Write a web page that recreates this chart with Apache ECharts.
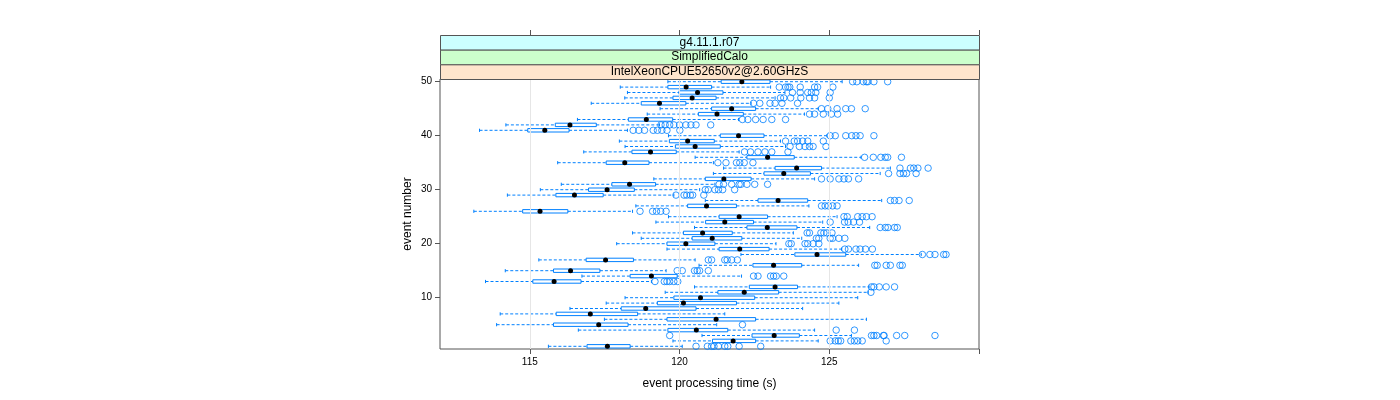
<!DOCTYPE html>
<html>
<head>
<meta charset="utf-8">
<script src="https://cdn.jsdelivr.net/npm/echarts@6/dist/echarts.min.js"></script>
<style>html,body{margin:0;padding:0;background:#fff}#c{width:1400px;height:400px}</style>
</head>
<body>
<div id="c"></div>
<script>
// ---- data (event 1 .. 50) ----
const events = [1,2,3,4,5,6,7,8,9,10,11,12,13,14,15,16,17,18,19,20,21,22,23,24,25,26,27,28,29,30,31,32,33,34,35,36,37,38,39,40,41,42,43,44,45,46,47,48,49,50];
const whiskerLow = [115.62,119.78,120.75,116.62,113.89,117.49,114.01,116.34,117.55,118.18,119.52,120.50,113.52,116.74,114.18,120.65,115.30,122.05,119.58,117.90,118.72,118.43,120.50,119.21,119.63,113.13,118.54,120.86,114.25,115.35,116.05,119.14,121.13,121.47,115.93,120.52,116.80,118.18,117.99,119.63,113.32,114.20,116.59,118.92,119.35,117.05,118.17,118.26,118.02,119.61];
const boxLow = [116.91,121.10,122.42,119.61,115.79,119.58,115.88,118.05,119.26,119.81,121.28,122.33,115.10,118.35,115.79,122.45,116.88,123.85,121.32,119.58,120.42,120.13,122.25,120.87,121.32,114.76,120.27,122.62,115.87,116.96,117.74,120.86,122.82,123.19,117.55,122.25,118.41,119.86,119.66,121.36,114.93,115.85,118.29,120.63,121.07,118.72,119.78,119.98,119.61,121.39];
const medians = [117.59,121.79,123.16,120.56,117.30,121.22,117.02,118.87,120.13,120.70,122.16,123.19,115.81,119.06,116.36,123.14,117.53,124.59,122.01,120.21,121.09,120.77,122.93,121.51,121.99,115.34,120.90,123.29,116.49,117.58,118.33,121.48,123.48,123.91,118.17,122.94,119.03,120.52,120.27,121.97,115.50,116.34,118.89,121.25,121.74,119.33,120.42,120.60,120.22,122.08];
const boxHigh = [118.35,122.54,124.00,121.61,118.28,122.54,118.60,120.55,121.90,122.51,123.31,123.94,116.71,119.92,117.34,124.08,118.46,125.55,122.99,121.18,122.08,121.76,123.92,122.47,122.94,116.27,121.90,124.28,117.45,118.49,119.20,122.39,124.37,124.74,118.98,123.83,119.89,121.36,121.16,122.82,116.31,117.22,119.77,122.13,122.54,120.21,121.22,121.45,121.07,123.02];
const whiskerHigh = [120.09,124.63,125.74,124.51,121.24,126.24,121.51,124.11,125.32,125.95,126.30,126.33,119.06,122.07,119.55,125.98,120.52,128.07,125.41,123.22,124.08,123.80,126.35,124.78,125.26,118.43,124.32,126.75,119.81,120.67,121.18,124.51,126.70,127.04,121.13,126.06,121.99,123.54,123.37,124.92,118.26,119.33,121.97,124.17,124.63,122.39,123.19,123.52,123.04,125.43];
const outliers = [
  [120.55,120.93,121.07,121.15,121.30,121.51,121.61,121.99,122.71],
  [125.03,125.20,125.30,125.38,125.72,125.84,125.95,126.10,126.90],
  [119.67,126.41,126.49,126.58,126.81,126.83,127.25,127.52,128.53],
  [125.23,125.84],
  [122.10],
  [],
  [],
  [],
  [],
  [],
  [126.39],
  [126.41,126.49,126.67,126.90,127.18],
  [119.18,119.49,119.58,119.67,119.81,119.94],
  [122.47,122.62,123.04,123.14,123.23,123.48],
  [119.92,120.09,120.50,120.59,120.67,120.96],
  [126.52,126.60,126.90,127.04,127.36,127.44],
  [120.96,121.07,121.51,121.59,121.74,121.93],
  [128.11,128.36,128.53,128.82,128.90],
  [125.52,125.64,125.89,126.03,126.21,126.44],
  [123.65,123.73,124.19,124.28,124.46,124.65],
  [124.57,124.65,125.03,125.11,125.32,125.52],
  [124.26,124.34,124.72,124.82,124.92,125.09],
  [126.70,126.87,126.96,127.18,127.27],
  [125.03,125.51,125.63,125.81,126.01],
  [125.49,125.60,125.95,126.10,126.24,126.43],
  [118.68,119.10,119.23,119.37,119.55],
  [124.74,124.86,124.97,125.11,125.26],
  [127.04,127.18,127.33,127.67],
  [119.88,120.15,120.24,120.36,120.44,120.81],
  [120.86,120.96,121.18,121.30,121.44,121.84],
  [121.32,121.47,121.74,121.99,122.05,122.25,122.51,122.94],
  [124.74,125.03,125.32,125.49,125.64,125.98],
  [126.98,127.36,127.48,127.58,127.90],
  [127.36,127.71,127.82,127.96,128.30],
  [121.28,121.55,121.90,122.01,122.16,122.45],
  [126.18,126.47,126.72,126.87,126.95,127.41],
  [122.17,122.37,122.62,122.85,123.08,123.62],
  [123.69,124.00,124.19,124.34,124.46,124.89],
  [123.54,123.83,123.94,124.11,124.28,124.80],
  [125.03,125.20,125.55,125.75,125.89,126.03,126.49],
  [118.45,118.64,118.83,119.12,119.26,119.41,119.58,120.01],
  [119.38,119.52,119.67,119.81,120.00,120.21,120.38,120.55,121.04],
  [122.10,122.28,122.54,122.79,123.08,123.54],
  [124.34,124.51,124.80,125.07,125.28],
  [124.74,124.95,125.26,125.55,125.74,126.20],
  [122.47,122.68,123.02,123.19,123.42,123.94],
  [123.37,123.48,123.71,124.05,124.34,124.51,125.00],
  [123.77,124.03,124.28,124.40,124.55,125.03],
  [123.33,123.54,123.62,123.68,124.03,124.51,124.61,125.12],
  [125.78,125.92,126.14,126.24,126.29,126.49,126.95]
];
const xTicks = [115, 120, 125, 130];
const xLabels = [115, 120, 125];
const yTicks = [10, 20, 30, 40, 50];
const stripTexts = ['g4.11.1.r07', 'SimplifiedCalo', 'IntelXeonCPUE52650v2@2.60GHzS'];
const stripColors = ['#ccffff', '#ccffcc', '#ffe5cc'];
const xTitle = 'event processing time (s)';
const yTitle = 'event number';

// ---- build ----
const FONT = '"Liberation Sans", Arial, Helvetica, sans-serif';
const BLUE = '#0080ff';
const boxData = events.map((e, i) => [e, whiskerLow[i], boxLow[i], medians[i], boxHigh[i], whiskerHigh[i]]);
const outData = [];
events.forEach((e, i) => outliers[i].forEach(v => outData.push([v, e])));

function renderBox(params, api) {
  const yv = api.value(0);
  const pt = d => api.coord([api.value(d), yv]);
  const wl = pt(1), q1 = pt(2), md = pt(3), q3 = pt(4), wh = pt(5);
  const cy = wl[1];
  const hb = 1.7, ht = 1.6;
  const dash = {stroke: BLUE, lineWidth: 1, lineDash: [3, 2]};
  const solid = {stroke: BLUE, lineWidth: 1};
  return {
    type: 'group',
    children: [
      {type: 'line', shape: {x1: wl[0], y1: cy, x2: q1[0], y2: cy}, style: dash},
      {type: 'line', shape: {x1: q3[0], y1: cy, x2: wh[0], y2: cy}, style: dash},
      {type: 'line', shape: {x1: wl[0], y1: cy - ht, x2: wl[0], y2: cy + ht}, style: solid},
      {type: 'line', shape: {x1: wh[0], y1: cy - ht, x2: wh[0], y2: cy + ht}, style: solid},
      {type: 'rect', shape: {x: q1[0], y: cy - hb, width: q3[0] - q1[0], height: 2 * hb}, style: {fill: 'none', stroke: BLUE, lineWidth: 1}},
      {type: 'circle', shape: {cx: md[0], cy: cy, r: 2.5}, style: {fill: '#000'}}
    ]
  };
}

const GL = 440, GR = 979, GT = 79, GB = 349;
const stripH = (GT - 35) / 3;
const graphics = [];
stripTexts.forEach((t, i) => {
  const y0 = 35 + i * stripH;
  graphics.push({type: 'rect', left: GL, top: y0, shape: {x: 0, y: 0, width: GR - GL, height: stripH},
    style: {fill: stripColors[i], stroke: '#555', lineWidth: 1}, z: 10});
  graphics.push({type: 'text', x: (GL + GR) / 2, y: y0 + stripH / 2, style: {text: t, fill: '#000', font: '12px ' + FONT, align: 'center', verticalAlign: 'middle'}, z: 11});
});

const chart = echarts.init(document.getElementById('c'), null, {renderer: 'canvas'});
chart.setOption({
  animation: false,
  backgroundColor: '#fff',
  textStyle: {fontFamily: FONT},
  grid: {left: GL, right: 1400 - GR, top: GT, bottom: 400 - GB, show: true, borderColor: '#555', borderWidth: 1, backgroundColor: 'transparent'},
  xAxis: [
    {type: 'value', min: 112, max: 130, position: 'bottom',
     axisLine: {show: false}, splitLine: {show: false},
     axisTick: {show: true, length: 5, lineStyle: {color: '#555'}, customValues: xTicks},
     axisLabel: {show: true, customValues: xLabels, fontSize: 10, color: '#000', margin: 8, fontFamily: FONT},
     name: xTitle, nameLocation: 'middle', nameGap: 29, nameTextStyle: {fontSize: 12, color: '#000', fontFamily: FONT}},
    {type: 'value', min: 112, max: 130, position: 'top', offset: GT - 35,
     axisLine: {show: false}, splitLine: {show: false},
     axisTick: {show: true, length: 5, lineStyle: {color: '#555'}, customValues: xTicks},
     axisLabel: {show: false}}
  ],
  yAxis: {type: 'value', min: 0.5, max: 50.5,
    axisLine: {show: false}, splitLine: {show: false},
    axisTick: {show: true, length: 5, lineStyle: {color: '#555'}, customValues: yTicks},
    axisLabel: {show: true, customValues: yTicks, fontSize: 10, color: '#000', margin: 8, fontFamily: FONT},
    name: yTitle, nameLocation: 'middle', nameRotate: 90, nameGap: 26, nameTextStyle: {fontSize: 12, color: '#000', fontFamily: FONT}},
  graphic: graphics,
  series: [
    {type: 'scatter', data: [], z: 1, silent: true,
     markLine: {silent: true, symbol: 'none', label: {show: false}, lineStyle: {color: '#e6e6e6', width: 1, type: 'solid'},
       data: xLabels.map(v => ({xAxis: v}))}},
    {type: 'custom', renderItem: renderBox, data: boxData, z: 3, silent: true,
     encode: {x: [1, 2, 3, 4, 5], y: 0}},
    {type: 'scatter', data: outData, z: 4, silent: true, symbol: 'circle', symbolSize: 6.5,
     itemStyle: {color: 'rgba(0,0,0,0)', borderColor: BLUE, borderWidth: 1}}
  ]
});
</script>
</body>
</html>
